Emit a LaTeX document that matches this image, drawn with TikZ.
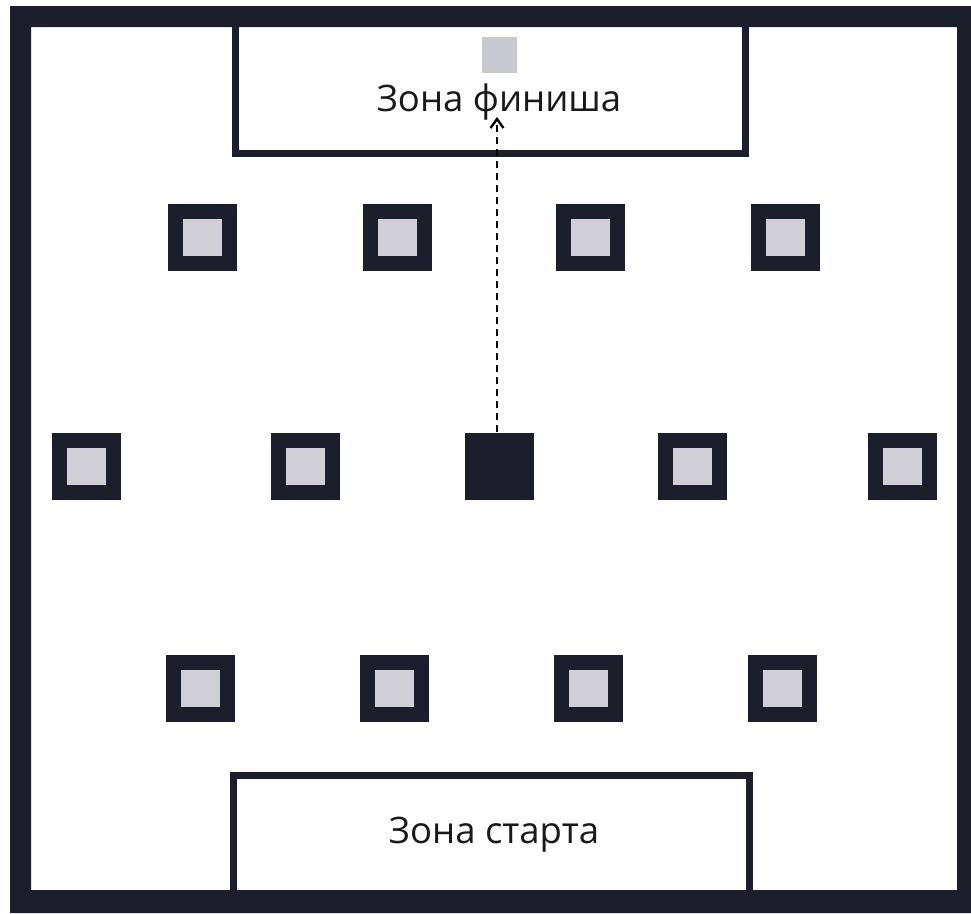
\documentclass[tikz,border=0pt]{standalone}
\usepackage{fontspec}
\setmainfont{Open Sans}
\usetikzlibrary{arrows.meta}
\definecolor{dark}{HTML}{1D1E2C}
\definecolor{grayin}{HTML}{CFCFD5}
\definecolor{graylight}{HTML}{C8C9CF}
\tikzset{
  obst/.style={fill=dark, draw=none, minimum width=69pt, minimum height=67pt, inner sep=0pt},
  obstin/.style={fill=grayin, draw=none, minimum width=39pt, minimum height=37pt, inner sep=0pt},
  zone/.style={draw=dark, line width=7pt, fill=none, inner sep=0pt},
  zonelabel/.style={font=\fontsize{36.5}{42}\selectfont, inner sep=0pt, text=black!90},
  route/.style={draw=black, line width=2.6pt, dash pattern=on 7pt off 5pt, -{Straight Barb[length=9pt,width=13pt,line width=2.4pt]}}
}
\begin{document}
\begin{tikzpicture}[x=1pt,y=-1pt]
\useasboundingbox (0,0) rectangle (971,913);
\fill[white] (0,0) rectangle (971,913);
% outer frame
\fill[dark, even odd rule] (10,6) rectangle (971,913) (31,27) rectangle (957,890);
% finish zone
\node[zone, minimum width=510pt, minimum height=133.5pt] (finish) at (490.5,86.75) {};
\node[fill=graylight, minimum width=35pt, minimum height=36pt, inner sep=0pt] (flag) at (499.5,55) {};
\node[zonelabel, anchor=base] (finishtext) at (499,111) {Зона финиша};
% start zone
\node[zone, minimum width=516pt, minimum height=124.5pt] (start) at (491.5,837.75) {};
\node[zonelabel, anchor=base] (starttext) at (494,843) {Зона старта};
% top row
\foreach \x/\n in {202/t1,397/t2,590/t3,785/t4}{
  \node[obst] (\n) at (\x,237) {};
  \node[obstin] at (\n) {};
}
% middle row
\foreach \x/\n in {86/m1,305/m2,692/m4,902/m5}{
  \node[obst] (\n) at (\x,466) {};
  \node[obstin] at (\n) {};
}
\node[obst] (m3) at (499,466) {};
% bottom row
\foreach \x/\n in {200/b1,394/b2,588/b3,782/b4}{
  \node[obst] (\n) at (\x,688) {};
  \node[obstin] at (\n) {};
}
% route
\coordinate (tip) at (497,117);
\draw[route] (m3.north -| tip) -- (tip);
\end{tikzpicture}
\end{document}
